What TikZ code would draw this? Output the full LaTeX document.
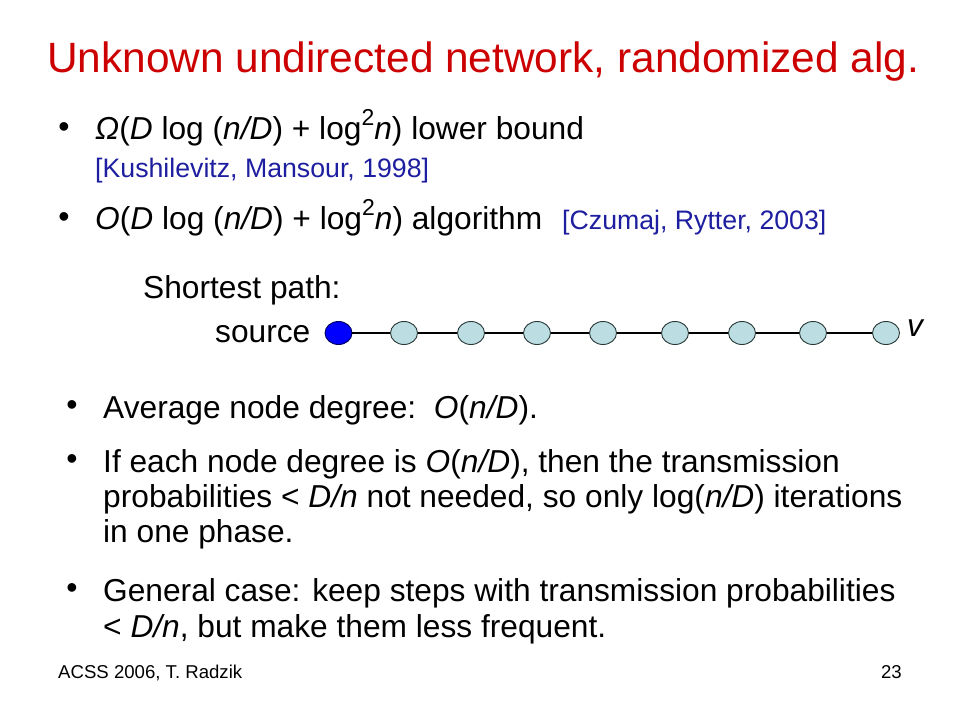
\documentclass[tikz,border=0pt]{standalone}
\usepackage{fontspec}
\setmainfont{Liberation Sans}
\usetikzlibrary{shapes.geometric}
\definecolor{titlered}{RGB}{204,0,0}
\definecolor{refblue}{RGB}{30,30,160}
\definecolor{srcblue}{RGB}{0,0,255}
\definecolor{srcedge}{RGB}{0,0,90}
\definecolor{nodecyan}{RGB}{188,222,226}
\definecolor{nodeedge}{RGB}{40,55,55}
\newcommand\mysup[1]{\raisebox{0.42em}{\fontsize{23}{23}\selectfont #1}}
\begin{document}
\begin{tikzpicture}[x=1pt,y=-1pt,
  txt/.style={anchor=base west, inner sep=0pt, font=\fontsize{31.7}{38}\selectfont},
  reftxt/.style={anchor=base west, inner sep=0pt, text=refblue, font=\fontsize{26.7}{32}\selectfont},
  bul/.style={anchor=center, inner sep=0pt, font=\fontsize{32}{32}\selectfont},
  titletxt/.style={anchor=base west, inner sep=0pt, text=titlered, font=\fontsize{42.4}{50}\selectfont},
  foot/.style={inner sep=0pt, font=\fontsize{18.6}{22}\selectfont},
  pnode/.style={ellipse, draw=nodeedge, fill=nodecyan, minimum width=27pt, minimum height=23pt, inner sep=0pt, line width=0.9pt},
  srcnode/.style={pnode, draw=srcedge, fill=srcblue},
  edge/.style={line width=1.2pt, black}]
\useasboundingbox (0,0) rectangle (960,720);
\fill[white] (0,0) rectangle (960,720);
% title
\node[titletxt] (title) at (47,72) {Unknown undirected network, randomized alg.};
% bullet 1
\node[bul] (b1) at (64,130) {•};
\node[txt] (t1) at (95,139) {\textit{Ω}(\textit{D} log (\textit{n/D}) + log\mysup{2}\textit{n}) lower bound};
\node[reftxt] (r1) at (95,177) {[Kushilevitz, Mansour, 1998]};
% bullet 2
\node[bul] (b2) at (64,220) {•};
\node[txt] (t2) at (95,229) {\textit{O}(\textit{D} log (\textit{n/D}) + log\mysup{2}\textit{n}) algorithm};
\node[reftxt] (r2) at (562,229) {[Czumaj, Rytter, 2003]};
% shortest path
\node[txt] (sp) at (143,298) {Shortest path:};
\node[txt] (src) at (215,342) {source};
\node[srcnode] (n0) at (338.5,333) {};
\node[pnode] (n1) at (404,333) {};
\node[pnode] (n2) at (471,333) {};
\node[pnode] (n3) at (537,333) {};
\node[pnode] (n4) at (603,333) {};
\node[pnode] (n5) at (675,333) {};
\node[pnode] (n6) at (742,333) {};
\node[pnode] (n7) at (813,333) {};
\node[pnode] (n8) at (886,333) {};
\node[txt] (vlab) at (907,336) {\textit{v}};
\foreach \a/\b in {n0/n1,n1/n2,n2/n3,n3/n4,n4/n5,n5/n6,n6/n7,n7/n8}
  \draw[edge] (\a) -- (\b);
% bullet 3
\node[bul] (b3) at (72,408) {•};
\node[txt] (t3) at (103,418) {Average node degree:\ \ \textit{O}(\textit{n/D}).};
% bullet 4
\node[bul] (b4) at (72,462) {•};
\node[txt] (t4a) at (103,472) {If each node degree is \textit{O}(\textit{n/D}), then the transmission};
\node[txt] (t4b) at (103,507) {probabilities < \textit{D/n} not needed, so only log(\textit{n/D}) iterations};
\node[txt] (t4c) at (103,542) {in one phase.};
% bullet 5
\node[bul] (b5) at (72,591) {•};
\node[txt] (t5a) at (103,601) {General case: keep steps with transmission probabilities};
\node[txt] (t5b) at (103,637) {< \textit{D/n}, but make them less frequent.};
% footer
\node[foot, anchor=base west] (f1) at (58,678) {ACSS 2006, T. Radzik};
\node[foot, anchor=base east] (f2) at (902,678) {23};
\end{tikzpicture}
\end{document}
